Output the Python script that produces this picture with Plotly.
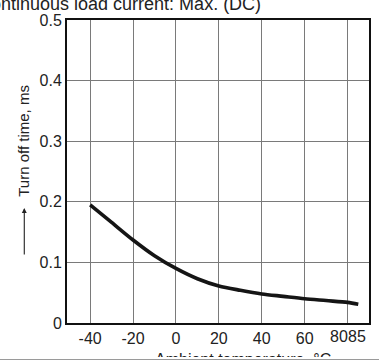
import plotly.graph_objects as go

# Turn-off time vs ambient temperature (continuous load current, max, DC)
temps = [-40, -30, -20, -10, 0, 10, 20, 30, 40, 50, 60, 70, 80, 85]
turn_off_ms = [0.195, 0.166, 0.137, 0.111, 0.090, 0.073, 0.061, 0.054,
               0.048, 0.044, 0.040, 0.037, 0.034, 0.031]

x_grid_ticks = [-40, -20, 0, 20, 40, 60, 80]
x_grid_text = ["-40", "-20", "0", "20", "40", "60", ""]
y_ticks = [0, 0.1, 0.2, 0.3, 0.4, 0.5]
y_text = ["0", "0.1", "0.2", "0.3", "0.4", "0.5"]

W, H = 379, 360
ML, MR, MT, MB = 67, 8, 20, 37
PW, PH = W - ML - MR, H - MT - MB
FONT = "Liberation Sans, Arial, Helvetica, sans-serif"
INK = "#222222"


def px(x):
    return (x - ML) / PW


def py(y):
    return (H - MB - y) / PH


fig = go.Figure()
fig.add_trace(go.Scatter(
    x=temps, y=turn_off_ms, mode="lines",
    line=dict(color="#151515", width=3.6, shape="spline", smoothing=0.8),
    hoverinfo="skip", showlegend=False,
))

axis_common = dict(
    showline=True, mirror=True, linecolor="#111111", linewidth=2,
    showgrid=True, gridcolor="#7a7a7a", gridwidth=1.2,
    zeroline=False, ticks="",
    tickfont=dict(family=FONT, size=16, color=INK),
)

fig.update_xaxes(range=[-50.8, 90], tickmode="array",
                 tickvals=x_grid_ticks, ticktext=x_grid_text, **axis_common)
fig.update_yaxes(range=[0, 0.5], tickmode="array",
                 tickvals=y_ticks, ticktext=y_text, **axis_common)

annotations = [
    # tick labels at the right end of the temperature axis
    dict(x=80, xref="x", y=py(337), yref="paper", text="80", showarrow=False,
         xanchor="right", yanchor="middle", xshift=2,
         font=dict(family=FONT, size=16, color=INK)),
    dict(x=85, xref="x", y=py(337), yref="paper", text="85", showarrow=False,
         xanchor="center", yanchor="middle", xshift=-1,
         font=dict(family=FONT, size=16, color=INK)),
    # heading
    dict(x=px(264), xref="paper", y=py(4), yref="paper",
         text="Continuous load current: Max. (DC)", showarrow=False,
         xanchor="right", yanchor="middle", font=dict(family=FONT, size=18, color=INK)),
    # y-axis title with arrow
    dict(x=px(23), xref="paper", y=py(140.5), yref="paper",
         text="Turn off time, ms", textangle=-90, showarrow=False,
         xanchor="center", yanchor="middle", font=dict(family=FONT, size=15, color=INK)),
    dict(x=px(24), xref="paper", y=py(208), yref="paper", text="",
         showarrow=True, ax=0, ay=48, arrowhead=2, arrowsize=0.9,
         arrowwidth=1.1, arrowcolor=INK),
    # x-axis title
    dict(x=px(244), xref="paper", y=py(349), yref="paper",
         text="Ambient temperature, °C", showarrow=False,
         xanchor="center", yanchor="top", font=dict(family=FONT, size=16, color=INK)),
    # page edge at the bottom
    dict(x=px(W / 2), xref="paper", y=py(357), yref="paper", text=" ",
         showarrow=False, xanchor="center", yanchor="top", width=W + 4, height=2,
         bgcolor="white", borderpad=0, borderwidth=0),
    dict(x=px(W / 2), xref="paper", y=py(359), yref="paper", text=" ",
         showarrow=False, xanchor="center", yanchor="top", width=W + 4, height=1,
         bgcolor="#9a9a9a", borderpad=0, borderwidth=0),
]

fig.update_layout(
    width=W, height=H,
    margin=dict(l=ML, r=MR, t=MT, b=MB),
    paper_bgcolor="white", plot_bgcolor="white",
    annotations=annotations,
    showlegend=False,
)

fig.write_html("out.html")
